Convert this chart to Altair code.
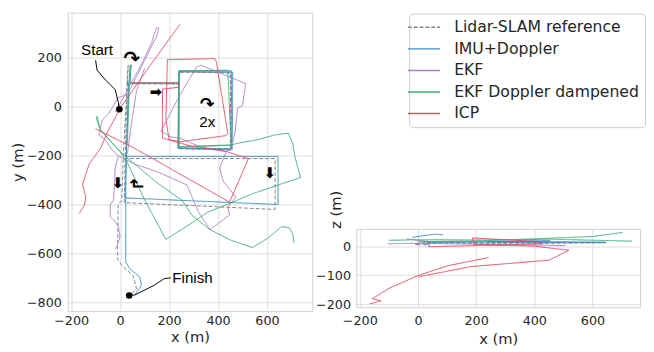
import altair as alt
import pandas as pd

SERIES = ["Lidar-SLAM reference", "IMU+Doppler", "EKF", "EKF Doppler dampened", "ICP"]
COLORS = ["#858585", "#3b8fc4", "#a880c5", "#3fae79", "#e04a63"]
DASHES = [[4, 2], [1, 0], [1, 0], [1, 0], [1, 0]]

# ---------------- x-y trajectories (m) ----------------
ref_xy_a = [(17, -212), (633, -212), (633, -420), (17, -392), (28, 95), (33, 170), (30, 95),
            (240, 92), (240, -170), (450, -172), (452, 141), (240, 141), (240, -172),
            (452, -176), (450, 138), (243, 143), (240, 92)]
ref_xy_b = [(30, 98), (13, -201), (7, -383), (-8, -400), (-10, -623), (7, -650), (53, -690),
            (67, -743), (40, -773)]

imu_xy_a = [(20, -203), (645, -203), (645, -400), (20, -373), (35, 95), (45, 172), (40, 95),
            (240, 96), (238, -168), (455, -172), (455, 147), (240, 148), (236, -170),
            (458, -176), (460, 142), (244, 145), (240, 96)]
imu_xy_b = [(35, 95), (25, -203), (23, -380), (23, -635), (40, -663), (80, -696), (87, -730),
            (60, -770)]

ekf_xy_a = [(-20, -20), (10, 30), (40, 90), (75, 150), (105, 210), (130, 265), (140, 300),
            (150, 325), (158, 322), (150, 290), (120, 230), (95, 180), (60, 110), (30, 50),
            (-7, 38), (-47, -28), (-73, -55), (-87, -115), (-60, -135), (-34, -175),
            (-7, -201), (-15, -230), (-20, -250), (-23, -320), (-27, -383), (-40, -400),
            (-40, -450), (-20, -470), (-7, -490), (0, -530), (-13, -570), (-20, -583)]
ekf_xy_b = [(-7, -201), (60, -235), (150, -265), (273, -320), (320, -430), (367, -503),
            (447, -443), (440, -410), (473, -370), (420, -303), (407, -250), (433, -183),
            (453, -175), (470, -100), (480, -5), (500, 5), (513, 95), (330, 170), (313, 164),
            (240, 40), (167, -100), (207, -123), (247, -130), (330, -165), (433, -183)]
ekf_xy_c = [(100, 157), (67, 64), (47, -63), (30, -190)]

ekfd_xy_a = [(30, -150), (38, 95), (42, 170), (38, 97), (240, 98), (240, -163), (453, -156),
             (440, 150), (240, 146), (238, -165), (447, -158), (487, -148), (560, -135),
             (633, -115), (687, -108), (705, -150), (713, -201), (737, -289), (640, -322),
             (540, -356), (447, -396), (360, -430), (293, -475), (187, -543), (100, -380),
             (27, -223), (0, -183), (-34, -148), (-80, -95), (-94, -39), (-96, -50),
             (-85, -85), (-73, -103), (7, -190), (150, -310), (253, -383), (293, -443),
             (367, -503), (450, -545), (540, -576), (600, -540), (660, -490), (690, -495),
             (705, -520), (710, -556)]

icp_xy_a = [(245, 336), (240, 332), (120, 165), (7, 4), (-50, -100), (-80, -170), (-127, -236),
            (-153, -316), (-140, -370), (-145, -400), (-167, -436)]
icp_xy_b = [(-100, -90), (60, -170), (200, -250), (447, -390), (524, -212), (433, -183),
            (293, -162), (173, -128), (173, 72), (240, 80), (240, 98), (47, 98)]
icp_xy_c = [(193, 193), (387, 197), (393, 184), (440, -110), (433, -118), (247, -143),
            (200, -135), (187, -50), (193, 193)]

# ---------------- x-z trajectories (m) ----------------
ref_xz_a = [(-10, 8), (30, 12), (240, 10), (450, 12), (240, 14), (450, 10), (645, 12),
            (20, 10), (-10, 5), (40, 4)]
imu_xz_a = [(30, 12), (240, 15), (455, 18), (240, 16), (645, 14), (645, 12), (20, 16),
            (23, 8), (40, 4)]
imu_xz_b = [(-20, 30), (20, 36), (58, 41), (87, 39)]
ekf_xz_a = [(-104, 8), (0, 10), (240, 6), (507, 2)]
ekf_xz_b = [(-40, 25), (0, 20), (50, 15)]
ekfd_xz_a = [(-99, 20), (0, 22), (240, 21), (450, 24), (737, 17)]
ekfd_xz_b = [(0, 15), (200, 18), (400, 25), (600, 33), (704, 47)]
icp_xz_a = [(243, -39), (103, -67), (2, -100), (-99, -144), (-157, -180), (-127, -187),
            (-166, -198)]
icp_xz_b = [(2, -105), (182, -70), (451, -48), (519, -14), (400, 0), (193, 6), (187, 28),
            (395, 17), (430, 8), (36, -2), (40, 2)]

# ---------------- annotations ----------------
start_curve = [(-100, 190), (-94, 150), (-60, 110), (-20, 70), (-7, 17), (-4, -5)]
finish_curve = [(40, -772), (60, -770), (140, -730), (180, -703), (207, -700)]
dots_x = [-3, 37]
dots_y = [-10, -772]
label_text = ["Start", "Finish", "2x"]
label_x = [-94, 213, 356]
label_y = [232, -700, -64]
label_align = ["center", "left", "center"]
glyph_text = ["↷", "➡", "↷", "➡", "↱", "➡"]
glyph_x = [47, 146, 356, -10, 75, 613]
glyph_y = [194, 60, 8, -310, -313, -270]
glyph_angle = [0, 0, 0, 90, 270, 90]
glyph_size = [20, 15, 18, 15, 18, 15]


def build(segments):
    rows = []
    for series, seg, pts in segments:
        for i, (x, y) in enumerate(pts):
            rows.append({"series": series, "seg": seg, "idx": i, "x": x, "y": y})
    return pd.DataFrame(rows)


xy_df = build([
    (SERIES[0], "r_a", ref_xy_a), (SERIES[0], "r_b", ref_xy_b),
    (SERIES[1], "i_a", imu_xy_a), (SERIES[1], "i_b", imu_xy_b),
    (SERIES[2], "e_a", ekf_xy_a), (SERIES[2], "e_b", ekf_xy_b), (SERIES[2], "e_c", ekf_xy_c),
    (SERIES[3], "d_a", ekfd_xy_a),
    (SERIES[4], "c_a", icp_xy_a), (SERIES[4], "c_b", icp_xy_b), (SERIES[4], "c_c", icp_xy_c),
])
xz_df = build([
    (SERIES[0], "r_a", ref_xz_a),
    (SERIES[1], "i_a", imu_xz_a), (SERIES[1], "i_b", imu_xz_b),
    (SERIES[2], "e_a", ekf_xz_a), (SERIES[2], "e_b", ekf_xz_b),
    (SERIES[3], "d_a", ekfd_xz_a), (SERIES[3], "d_b", ekfd_xz_b),
    (SERIES[4], "c_a", icp_xz_a), (SERIES[4], "c_b", icp_xz_b),
])
curves_df = build([("ann", "s", start_curve), ("ann", "f", finish_curve)])
dots_df = pd.DataFrame({"x": dots_x, "y": dots_y})
labels_df = pd.DataFrame({"x": label_x, "y": label_y, "t": label_text, "a": label_align})
glyph_df = pd.DataFrame({"x": glyph_x, "y": glyph_y, "t": glyph_text,
                         "ang": glyph_angle, "fs": glyph_size})

TXT = "#262626"
FONT = "DejaVu Sans"

legend = alt.Legend(
    orient="none", legendX=349, legendY=1, symbolType="M-2.8,0H3.2", symbolSize=121,
    symbolStrokeWidth=1.5, labelFont=FONT, labelFontSize=16, labelColor=TXT,
    labelOffset=24, labelLimit=300, rowPadding=6, padding=6, strokeColor="#cccccc",
    fillColor="white", cornerRadius=4,
)
color_enc = alt.Color("series:N", scale=alt.Scale(domain=SERIES, range=COLORS),
                      title=None, legend=legend)
dash_enc = alt.StrokeDash("series:N", scale=alt.Scale(domain=SERIES, range=DASHES),
                          title=None, legend=legend)

LX = alt.Scale(domain=[-214, 785], nice=False, zero=False)
LY = alt.Scale(domain=[-836, 385], nice=False, zero=False)
lx_axis = alt.Axis(values=[-200, 0, 200, 400, 600], title="x (m)", labelPadding=4,
                   titlePadding=2)
ly_axis = alt.Axis(values=[-800, -600, -400, -200, 0, 200], title="y (m)", labelPadding=6.5,
                   titlePadding=1)

lx = alt.X("x:Q", scale=LX, axis=lx_axis)
ly = alt.Y("y:Q", scale=LY, axis=ly_axis)

traj = alt.Chart(xy_df).mark_line(strokeWidth=1, clip=True).encode(
    x=lx, y=ly, color=color_enc, strokeDash=dash_enc,
    detail="seg:N", order="idx:Q",
)
curves = alt.Chart(curves_df).mark_line(color="black", strokeWidth=1).encode(
    x=lx, y=ly, detail="seg:N", order="idx:Q")
dots = alt.Chart(dots_df).mark_circle(color="black", size=45, opacity=1).encode(x=lx, y=ly)
labels_l = alt.Chart(labels_df[labels_df["a"] == "left"]).mark_text(
    font="Liberation Sans", fontSize=15.5, color="black", baseline="middle", align="left"
).encode(x=lx, y=ly, text="t:N")
labels_c = alt.Chart(labels_df[labels_df["a"] == "center"]).mark_text(
    font="Liberation Sans", fontSize=15.5, color="black", baseline="middle", align="center"
).encode(x=lx, y=ly, text="t:N")
glyphs = alt.Chart(glyph_df).mark_text(font="DejaVu Sans", fontWeight="bold", color="black",
                                        baseline="middle", align="center").encode(
    x=lx, y=ly, text="t:N", angle=alt.Angle("ang:Q", scale=None),
    size=alt.Size("fs:Q", scale=None))

left = alt.layer(traj, curves, dots, labels_l, labels_c, glyphs).properties(
    width=250, height=305)

RX = alt.Scale(domain=[-212, 764], nice=False, zero=False)
RY = alt.Scale(domain=[-209, 59], nice=False, zero=False)
right = alt.Chart(xz_df).mark_line(strokeWidth=1, clip=True).encode(
    x=alt.X("x:Q", scale=RX, axis=alt.Axis(values=[-200, 0, 200, 400, 600], title="x (m)",
                                          labelPadding=8, titlePadding=4)),
    y=alt.Y("y:Q", scale=RY, axis=alt.Axis(values=[-200, -100, 0], title="z (m)",
                                          labelPadding=6, titleX=-21, titleY=-20,
                                          titleAngle=270, titleAlign="center",
                                          titleBaseline="middle")),
    color=color_enc, strokeDash=dash_enc, detail="seg:N", order="idx:Q",
).properties(width=290, height=80)

spacer = alt.Chart(pd.DataFrame({"a": [0]})).mark_point(opacity=0).encode(
    x=alt.X("a:Q", axis=None), y=alt.Y("a:Q", axis=None)
).properties(width=290, height=221, view=alt.ViewBackground(stroke="transparent"))

chart = alt.hconcat(
    left,
    alt.vconcat(spacer, right, spacing=0, bounds="flush"),
    spacing=45, bounds="flush",
).properties(
    padding={"left": 2, "top": 0, "right": 0, "bottom": 0}
).configure_view(
    stroke="#cfcfcf", strokeWidth=1
).configure_axis(
    labelFont=FONT, labelFontSize=13, labelColor=TXT, titleFont=FONT, titleFontSize=15,
    titleColor=TXT, titleFontWeight="normal", gridColor="#dddddd", gridWidth=1,
    domain=False, ticks=False,
)

chart.save("out.html", embed_options={"renderer": "svg", "actions": False})
